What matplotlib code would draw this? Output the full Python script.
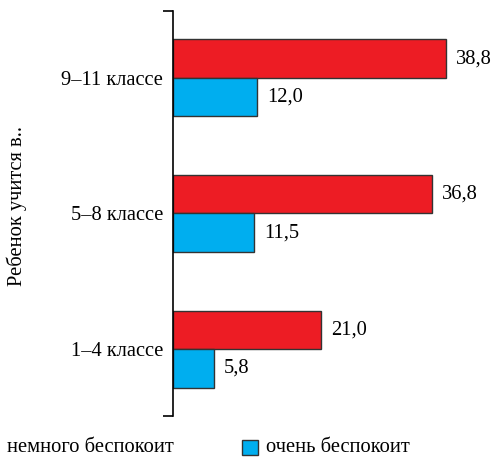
import matplotlib.pyplot as plt
from matplotlib.patches import Rectangle

# survey shares, %
categories = ["1–4 классе", "5–8 классе", "9–11 классе"]
slightly = [21.0, 36.8, 38.8]   # немного беспокоит
very = [5.8, 11.5, 12.0]        # очень беспокоит
series_names = ["немного беспокоит", "очень беспокоит"]

RED = "#ED1C24"
BLUE = "#00AEEF"
EDGE = "#333333"

plt.rcParams['font.family'] = ['Liberation Serif', 'DejaVu Serif']
FS = 14.8

W, H = 494, 461
fig = plt.figure(figsize=(W / 100, H / 100), dpi=100)
ax = fig.add_axes([173 / W, 1 - 416 / H, 310 / W, 405 / H])

h = 0.284
ypos = list(range(len(categories)))
red_y = [y + h / 2 for y in ypos]
blue_y = [y - h / 2 for y in ypos]

ax.barh(red_y, slightly, height=h, color=RED, edgecolor=EDGE, linewidth=1)
ax.barh(blue_y, very, height=h, color=BLUE, edgecolor=EDGE, linewidth=1)

def fmt(v):
    return f"{v:.1f}".replace(".", ",")

for y, v in zip(red_y, slightly):
    ax.annotate(fmt(v), (v, y), xytext=(10, 0), textcoords="offset pixels",
                va="center", ha="left", fontsize=FS)
for y, v in zip(blue_y, very):
    ax.annotate(fmt(v), (v, y), xytext=(10, 0), textcoords="offset pixels",
                va="center", ha="left", fontsize=FS)

ax.set_xlim(0, 310 / 7.04)
ax.set_ylim(-0.494, 2.494)

for s in ["top", "right", "bottom"]:
    ax.spines[s].set_visible(False)
ax.spines["left"].set_linewidth(1.2)
ax.set_xticks([])

ax.set_yticks(ypos)
ax.set_yticklabels(categories, fontsize=FS)
ax.tick_params(axis="y", which="major", length=0, pad=7)
ax.set_yticks([-0.494, 2.494], minor=True)
ax.tick_params(axis="y", which="minor", length=7, width=1.2, direction="out")

fig.text(17 / W, 1 - 206 / H, "Ребенок учится в..", rotation=90,
         ha="center", va="center", fontsize=FS)

# legend row along the bottom edge; the first swatch sits past the left border
legend_items = [(-24, RED, series_names[0]), (242, BLUE, series_names[1])]
for x0, col, name in legend_items:
    fig.patches.append(Rectangle((x0 / W, 1 - 455 / H), 16 / W, 15 / H,
                                 transform=fig.transFigure, facecolor=col,
                                 edgecolor=EDGE, linewidth=1))
    fig.text((x0 + 24 if x0 > 0 else 7) / W, 1 - 447 / H, name,
             ha="left", va="center", fontsize=FS)

fig.savefig("out.png", dpi=100)
